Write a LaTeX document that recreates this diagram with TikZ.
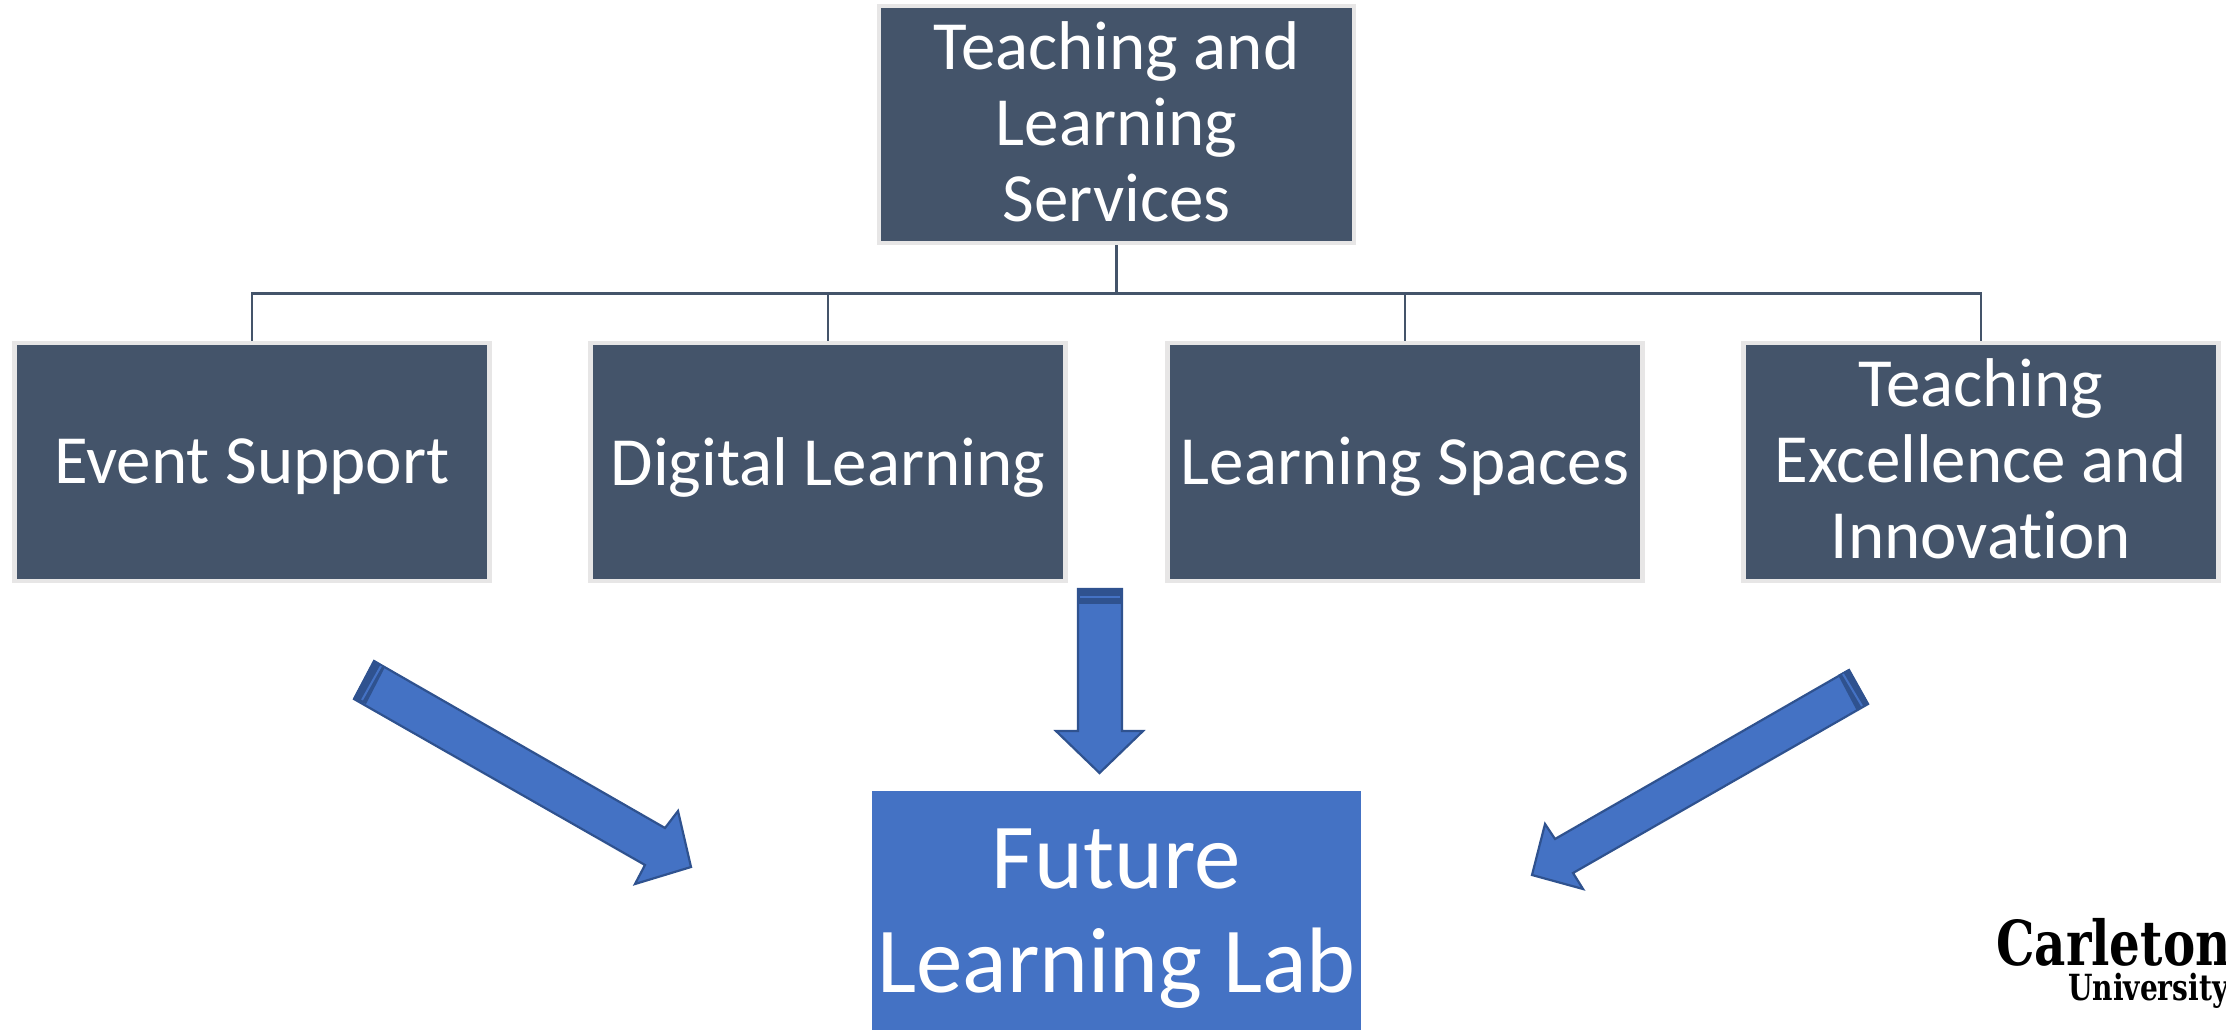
\documentclass[tikz,border=0pt]{standalone}
\usepackage{fontspec}
\setmainfont[Ligatures=NoCommon]{Carlito}
\newfontfamily\logofont[FakeStretch=0.78]{DejaVu Serif}
\definecolor{slate}{HTML}{44546A}
\definecolor{rim}{HTML}{E7E6E6}
\definecolor{blu}{HTML}{4472C4}
\definecolor{dkblu}{HTML}{2F528F}
\tikzset{
  x=1pt,y=-1pt,
  orgbox/.style={draw=rim,line width=4.5pt,fill=slate,minimum width=475pt,minimum height=238pt,inner sep=0pt},
  boxtext/.style={text=white,inner sep=0pt,align=center,font=\fontsize{69}{76}\selectfont},
  link/.style={draw=slate,line width=2.6pt},
  blockarrow/.style={fill=blu,draw=dkblu,line width=2.2pt,line join=miter},
  band/.style={fill=dkblu,draw=none},
  stripe/.style={draw=blu,line width=2pt},
}
\begin{document}
\begin{tikzpicture}
\useasboundingbox (0,0) rectangle (2226,1030);
\node[orgbox,minimum height=237pt] (top) at (1116.5,124.5) {};
\node[orgbox] (ev) at (252,462) {};
\node[orgbox] (dl) at (828,462) {};
\node[orgbox] (ls) at (1405,462) {};
\node[orgbox] (te) at (1981,462) {};
\node[boxtext] (topt) at ([yshift=3pt]top.center) {Teaching and\\Learning\\Services};
\node[boxtext] (evt) at ([yshift=-5pt]ev.center) {Event Support};
\node[boxtext] (dlt) at ([yshift=-5pt]dl.center) {Digital Learning};
\node[boxtext] (lst) at ([yshift=-5pt]ls.center) {Learning Spaces};
\node[boxtext] (tet) at ([yshift=3pt]te.center) {Teaching\\Excellence and\\Innovation};
\coordinate (bus) at (1116.5,293.5);
\draw[link,line width=3.4pt] (top.south) -- (bus);
\draw[link] (bus) -| (ev.north);
\draw[link] (bus) -| (dl.north);
\draw[link] (bus) -| (ls.north);
\draw[link] (bus) -| (te.north);
% arrows
\draw[blockarrow] (1078,589) -- (1122,589) -- (1122,731) -- (1143,731) -- (1099.5,773) -- (1056,731) -- (1078,731) -- cycle;
\fill[band] (1077,588) rectangle (1123,604);
\draw[stripe] (1080,597) -- (1120,597);
\draw[blockarrow] (374,661) -- (665,828) -- (678,811) -- (691,867) -- (635,884) -- (645,865) -- (354,699) -- cycle;
\fill[band] (374,660) -- (385,667) -- (366,704) -- (353,699) -- cycle;
\draw[stripe] (381,666) -- (362,700);
\draw[blockarrow] (1849,670) -- (1555,839) -- (1545,824) -- (1532,875) -- (1583,889) -- (1573,873) -- (1868,704) -- cycle;
\fill[band] (1849,669) -- (1838,675) -- (1857,711) -- (1869,704) -- cycle;
\draw[stripe] (1843,674) -- (1862,706);
\begin{scope}
\clip (0,0) rectangle (2226,1030);
\node[fill=blu,minimum width=489pt,minimum height=246pt,inner sep=0pt] (lab) at (1116.5,914) {};
\node[boxtext,font=\fontsize{93}{104}\selectfont] (labt) at ([yshift=-5pt]lab.center) {Future\\Learning Lab};
\node[anchor=base west,inner sep=0pt,font=\logofont\bfseries\fontsize{62}{62}\selectfont] (car) at (1996,965) {Carleton};
\node[anchor=base west,inner sep=0pt,font=\logofont\bfseries\fontsize{36}{36}\selectfont] (uni) at (2068,1000) {University};
\end{scope}
\end{tikzpicture}
\end{document}
